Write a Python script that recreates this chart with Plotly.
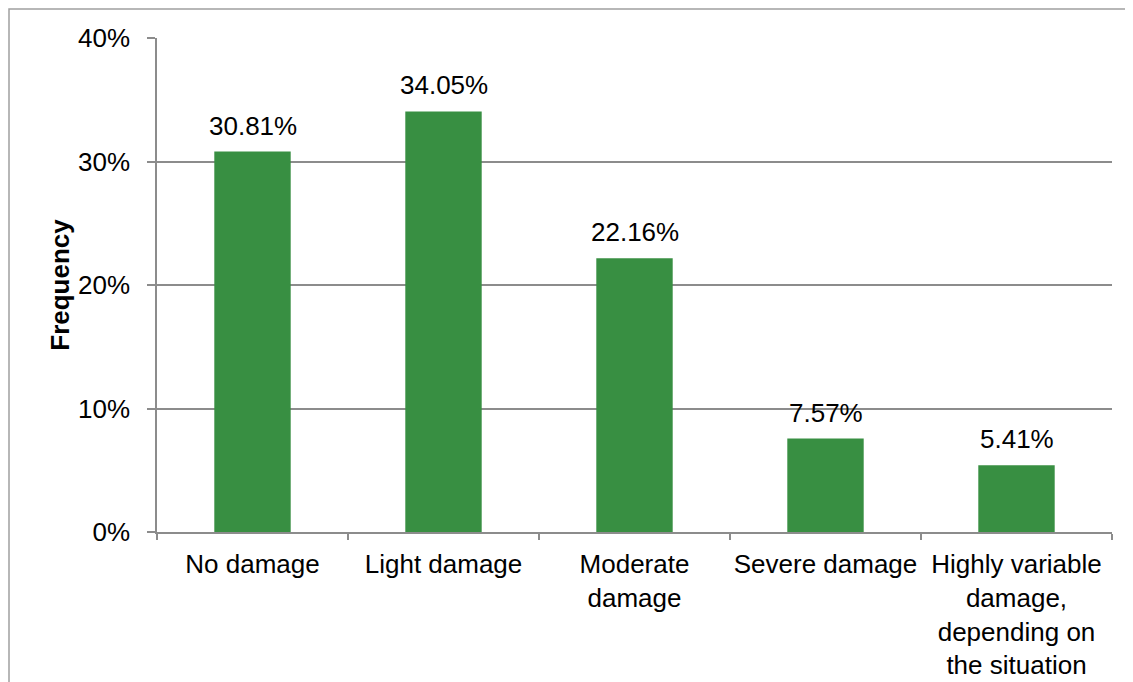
import plotly.graph_objects as go

categories = ["No damage", "Light damage", "Moderate<br>damage", "Severe damage",
              "Highly variable<br>damage,<br>depending on<br>the situation"]
values = [30.81, 34.05, 22.16, 7.57, 5.41]
labels = ["30.81%", "34.05%", "22.16%", "7.57%", "5.41%"]
y_ticks = [0, 10, 20, 30, 40]
y_tick_labels = ["0%", "10%", "20%", "30%", "40%"]

FONT = "Liberation Sans, Arial, sans-serif"
GRID = "#8c8c8c"
FS = 26

fig = go.Figure(go.Bar(x=categories, y=values, marker=dict(color="#388f42", line=dict(width=0)),
                       width=0.4, hoverinfo="skip"))

for c, v, t in zip(categories, values, labels):
    fig.add_annotation(x=c, y=v, text=t, showarrow=False, yanchor="bottom", yshift=9,
                       font=dict(family=FONT, size=FS, color="#000"))

# page body has an 8px margin; compensate
W, H = 1125, 674
L, R, T, B = 149, 21, 30, 150
fig.update_layout(
    width=W, height=H,
    margin=dict(l=L, r=R, t=T, b=B),
    paper_bgcolor="white", plot_bgcolor="white",
    showlegend=False,
    font=dict(family=FONT, size=FS, color="#000"),
    xaxis=dict(tickson="boundaries", ticks="outside", ticklen=6, tickcolor=GRID, tickwidth=1.5,
               showline=True, linecolor=GRID, linewidth=1.5, showgrid=False, tickangle=0,
               automargin=False, tickfont=dict(size=FS), ticklabelstandoff=8),
    yaxis=dict(range=[0, 40], tickvals=y_ticks, ticktext=y_tick_labels, ticks="outside",
               ticklen=8, tickcolor=GRID, tickwidth=1.5, showline=True, linecolor=GRID,
               linewidth=1.5, showgrid=True, gridcolor=GRID, gridwidth=1.5, zeroline=False,
               automargin=False, tickfont=dict(size=FS), ticklabelstandoff=12,
               title=dict(text="<b>Frequency</b>", font=dict(size=FS), standoff=1)),
)

# outer chart border (left and top edges visible, extends past right/bottom)
pw, ph = W - L - R, H - T - B
fig.add_shape(type="rect", xref="paper", yref="paper", x0=(1 - L) / pw, x1=(W + 10 - L) / pw,
              y0=-(B + 10) / ph, y1=1 + (T - 1) / ph, line=dict(color="#a0a0a0", width=1.5),
              layer="below")

fig.write_html("out.html")
